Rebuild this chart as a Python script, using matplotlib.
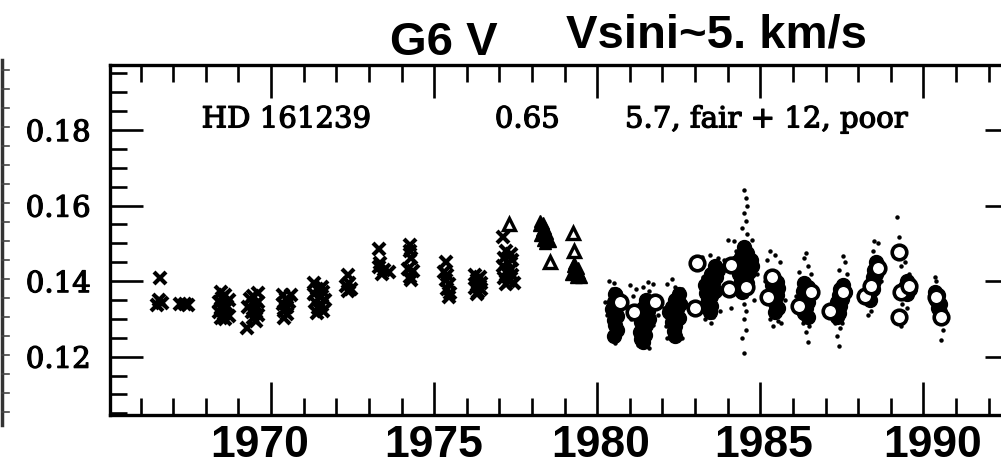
import numpy as np
import matplotlib.pyplot as plt
from matplotlib.lines import Line2D
from matplotlib.ticker import MultipleLocator
import matplotlib.transforms as mtransforms
import matplotlib.patheffects as pe

# crosses (1966-1978)
cross_yr = [1966.6, 1966.55, 1966.65, 1966.5,
            1967.2, 1967.45, 1967.35,
            1968.45, 1968.6, 1968.5, 1968.7, 1968.4, 1968.55, 1968.65, 1968.45, 1968.6, 1968.4, 1968.55, 1968.7, 1968.45, 1968.6,
            1969.6, 1969.45, 1969.35, 1969.6, 1969.5, 1969.3, 1969.55, 1969.4, 1969.6, 1969.45, 1969.25, 1969.55,
            1970.35, 1970.6, 1970.45, 1970.55, 1970.35, 1970.5, 1970.4, 1970.5, 1970.4,
            1971.3, 1971.55, 1971.4, 1971.6, 1971.3, 1971.5, 1971.65, 1971.35, 1971.55, 1971.45, 1971.6, 1971.4,
            1972.35, 1972.4, 1972.3, 1972.45, 1972.35,
            1973.3, 1973.35, 1973.3, 1973.45, 1973.6, 1973.4,
            1974.25, 1974.25, 1974.3, 1974.2, 1974.35, 1974.25, 1974.3,
            1975.35, 1975.3, 1975.4, 1975.35, 1975.45, 1975.4, 1975.5, 1975.45,
            1976.25, 1976.4, 1976.3, 1976.45, 1976.35, 1976.25, 1976.45, 1976.35, 1976.3,
            1977.1, 1977.2, 1977.35, 1977.15, 1977.4, 1977.25, 1977.1, 1977.35, 1977.2, 1977.4, 1977.15, 1977.3, 1977.45, 1977.2]
cross_val = [0.1409, 0.1350, 0.1342, 0.1338,
             0.1340, 0.1337, 0.1339,
             0.1370, 0.1362, 0.1355, 0.1350, 0.1345, 0.1340, 0.1335, 0.1330, 0.1325, 0.1318, 0.1312, 0.1308, 0.1302, 0.1300,
             0.1368, 0.1360, 0.1352, 0.1345, 0.1338, 0.1332, 0.1326, 0.1318, 0.1310, 0.1302, 0.1275, 0.1295,
             0.1364, 0.1362, 0.1352, 0.1345, 0.1340, 0.1332, 0.1322, 0.1312, 0.1302,
             0.1395, 0.1385, 0.1378, 0.1370, 0.1365, 0.1358, 0.1350, 0.1345, 0.1338, 0.1330, 0.1322, 0.1315,
             0.1415, 0.1395, 0.1388, 0.1380, 0.1374,
             0.1484, 0.1449, 0.1438, 0.1430, 0.1424, 0.1420,
             0.1497, 0.1479, 0.1460, 0.1432, 0.1426, 0.1410, 0.1402,
             0.1452, 0.1425, 0.1415, 0.1402, 0.1392, 0.1380, 0.1368, 0.1358,
             0.1415, 0.1410, 0.1402, 0.1395, 0.1388, 0.1382, 0.1378, 0.1372, 0.1367,
             0.1518, 0.1480, 0.1472, 0.1462, 0.1455, 0.1448, 0.1440, 0.1432, 0.1425, 0.1415, 0.1408, 0.1400, 0.1395, 0.1392]

# open triangles
tri_yr = [1977.3, 1978.55, 1979.25, 1979.3]
tri_val = [0.1550, 0.1452, 0.1528, 0.1479]

# filled triangles (dense groups)
trif_yr = [1978.25, 1978.35, 1978.2, 1978.4, 1978.3, 1978.45, 1978.25, 1978.5, 1978.35, 1978.55, 1978.4,
           1979.3, 1979.25, 1979.4, 1979.3, 1979.45, 1979.2, 1979.35, 1979.5]
trif_val = [0.1560, 0.1555, 0.1548, 0.1542, 0.1535, 0.1528, 0.1522, 0.1515, 0.1510, 0.1505, 0.1500,
            0.1448, 0.1440, 0.1435, 0.1428, 0.1422, 0.1418, 0.1412, 0.1410]

# open circles
circ_yr = [1980.7, 1981.13, 1981.77, 1983.0, 1983.05, 1984.05, 1984.1, 1984.55, 1985.25, 1985.35,
           1986.2, 1986.55, 1987.15, 1987.55, 1988.2, 1988.4, 1988.6, 1989.24, 1989.3, 1989.55, 1989.25,
           1990.4, 1990.55]
circ_val = [0.1346, 0.1317, 0.1346, 0.1330, 0.1449, 0.1378, 0.1444, 0.1385, 0.1357, 0.1410,
            0.1333, 0.1370, 0.1320, 0.1370, 0.1360, 0.1386, 0.1436, 0.1476, 0.1370, 0.1386, 0.1306,
            0.1357, 0.1306]

# dense filled groups (1980s)
blob_yr = [1980.55, 1980.6, 1980.5, 1980.6, 1980.45, 1980.55, 1980.6, 1980.5, 1980.55, 1980.6, 1980.5,
           1981.5, 1981.65, 1981.4, 1981.55, 1981.3, 1981.45, 1981.6, 1981.35, 1981.5, 1981.4, 1981.3, 1981.45, 1981.35, 1981.4,
           1982.5, 1982.4, 1982.55, 1982.3, 1982.45, 1982.2, 1982.35, 1982.5, 1982.3, 1982.4, 1982.35, 1982.4,
           1983.6, 1983.7, 1983.5, 1983.65, 1983.4, 1983.55, 1983.3, 1983.45, 1983.6, 1983.35, 1983.5, 1983.4, 1983.5, 1983.45,
           1984.5, 1984.6, 1984.4, 1984.7, 1984.3, 1984.55, 1984.75, 1984.45, 1984.65, 1984.35, 1984.55, 1984.4, 1984.6, 1984.5, 1984.45,
           1985.4, 1985.5, 1985.35, 1985.55, 1985.4, 1985.5, 1985.35, 1985.45, 1985.55, 1985.45,
           1986.35, 1986.45, 1986.3, 1986.5, 1986.35, 1986.45, 1986.3, 1986.4, 1986.35, 1986.45,
           1987.55, 1987.45, 1987.6, 1987.4, 1987.5, 1987.35, 1987.45, 1987.3, 1987.4, 1987.35,
           1988.55, 1988.6, 1988.5, 1988.55, 1988.45, 1988.5, 1988.4, 1988.45, 1988.35, 1988.3, 1988.35,
           1989.5, 1989.55, 1989.45, 1989.6, 1989.4, 1989.5,
           1990.35, 1990.45, 1990.4, 1990.5, 1990.45, 1990.5]
blob_val = [0.1365, 0.1355, 0.1345, 0.1335, 0.1325, 0.1318, 0.1308, 0.1298, 0.1285, 0.1270, 0.1255,
            0.1350, 0.1340, 0.1330, 0.1322, 0.1315, 0.1305, 0.1300, 0.1292, 0.1285, 0.1275, 0.1265, 0.1258, 0.1248, 0.1240,
            0.1365, 0.1350, 0.1340, 0.1332, 0.1325, 0.1318, 0.1310, 0.1302, 0.1292, 0.1280, 0.1268, 0.1255,
            0.1440, 0.1430, 0.1420, 0.1410, 0.1402, 0.1395, 0.1390, 0.1382, 0.1375, 0.1368, 0.1360, 0.1350, 0.1335, 0.1318,
            0.1490, 0.1475, 0.1465, 0.1455, 0.1450, 0.1445, 0.1440, 0.1432, 0.1425, 0.1418, 0.1410, 0.1400, 0.1395, 0.1385, 0.1372,
            0.1410, 0.1398, 0.1390, 0.1382, 0.1372, 0.1362, 0.1352, 0.1342, 0.1330, 0.1318,
            0.1395, 0.1385, 0.1375, 0.1365, 0.1355, 0.1345, 0.1338, 0.1328, 0.1315, 0.1305,
            0.1390, 0.1380, 0.1372, 0.1362, 0.1352, 0.1345, 0.1335, 0.1325, 0.1315, 0.1305,
            0.1450, 0.1440, 0.1430, 0.1420, 0.1410, 0.1400, 0.1390, 0.1380, 0.1370, 0.1360, 0.1350,
            0.1400, 0.1392, 0.1385, 0.1378, 0.1372, 0.1365,
            0.1370, 0.1362, 0.1350, 0.1340, 0.1330, 0.1318]

# scattered single dots
dot_yr = [1980.35, 1980.5, 1980.45, 1980.7, 1980.3, 1980.65, 1980.55, 1980.4, 1980.75, 1980.25,
          1981.0, 1981.2, 1981.4, 1981.55, 1981.7, 1981.6, 1981.1, 1981.7, 1981.25, 1981.6, 1981.5, 1981.85, 1981.05,
          1982.15, 1982.3, 1982.4, 1982.6, 1982.1, 1982.25, 1982.5, 1982.6, 1982.15, 1982.7, 1982.05,
          1983.2, 1983.45, 1983.9, 1983.7, 1983.3, 1983.55, 1983.5, 1983.75, 1983.85, 1983.25,
          1984.5, 1984.55, 1984.6, 1984.5, 1984.55, 1984.45, 1984.6, 1984.0, 1984.2, 1984.75,
          1984.55, 1984.5, 1984.55, 1984.5, 1984.55, 1984.45, 1984.5, 1984.1, 1984.8, 1984.9, 1984.25,
          1985.3, 1985.45, 1985.2, 1985.6, 1985.3, 1985.55, 1985.4, 1985.65, 1985.75, 1985.15,
          1986.4, 1986.35, 1986.45, 1986.2, 1986.55, 1986.3, 1986.5, 1986.4, 1986.45, 1986.6, 1986.1,
          1987.55, 1987.6, 1987.4, 1987.65, 1987.3, 1987.45, 1987.35, 1987.4, 1987.5, 1987.2,
          1988.5, 1988.6, 1988.45, 1988.35, 1988.4, 1988.3, 1988.7,
          1989.2, 1989.25, 1989.3, 1989.45, 1989.55, 1989.35, 1989.3, 1989.5,
          1990.35, 1990.4, 1990.3, 1990.55, 1990.6, 1990.55]
dot_val = [0.1400, 0.1395, 0.1380, 0.1372, 0.1310, 0.1262, 0.1235, 0.1290, 0.1330, 0.1345,
           0.1390, 0.1378, 0.1385, 0.1398, 0.1392, 0.1375, 0.1360, 0.1285, 0.1230, 0.1222, 0.1255, 0.1310, 0.1300,
           0.1392, 0.1405, 0.1385, 0.1378, 0.1280, 0.1262, 0.1260, 0.1250, 0.1250, 0.1345, 0.1330,
           0.1465, 0.1470, 0.1455, 0.1462, 0.1300, 0.1305, 0.1290, 0.1320, 0.1380, 0.1410,
           0.1640, 0.1620, 0.1600, 0.1580, 0.1560, 0.1540, 0.1525, 0.1510, 0.1505, 0.1510,
           0.1360, 0.1340, 0.1320, 0.1300, 0.1270, 0.1250, 0.1210, 0.1330, 0.1350, 0.1420, 0.1480,
           0.1480, 0.1470, 0.1455, 0.1450, 0.1300, 0.1295, 0.1280, 0.1288, 0.1350, 0.1400,
           0.1475, 0.1460, 0.1440, 0.1425, 0.1420, 0.1290, 0.1280, 0.1265, 0.1238, 0.1300, 0.1360,
           0.1466, 0.1450, 0.1430, 0.1420, 0.1290, 0.1275, 0.1255, 0.1227, 0.1290, 0.1340,
           0.1505, 0.1500, 0.1480, 0.1340, 0.1320, 0.1310, 0.1400,
           0.1570, 0.1518, 0.1440, 0.1450, 0.1420, 0.1340, 0.1280, 0.1330,
           0.1410, 0.1400, 0.1380, 0.1295, 0.1270, 0.1245]

year_ticks = [1970, 1975, 1980, 1985, 1990]
year_label_x = [1969.66, 1975.0, 1980.12, 1985.09, 1990.27]

fig = plt.figure(figsize=(10.01, 4.65), dpi=100)
ax = fig.add_axes([0.1099, 0.1075, 0.907, 0.7527])

ax.plot(dot_yr, dot_val, ls='none', marker='o', ms=2.2, color='black', zorder=2)
ax.plot(blob_yr, blob_val, ls='none', marker='o', ms=10, color='black', zorder=3)
ax.plot(circ_yr, circ_val, ls='none', marker='o', ms=10.5, mfc='white', mec='black', mew=2.6, zorder=4)
ax.plot(cross_yr, cross_val, ls='none', marker='x', ms=8.5, mew=3.0, color='black', zorder=3)
ax.plot(trif_yr, trif_val, ls='none', marker='^', ms=9, color='black', zorder=3)
ax.plot(tri_yr, tri_val, ls='none', marker='^', ms=8, mfc='white', mec='black', mew=2.4, zorder=4)

ax.set_xlim(1965.06, 1992.9)
ax.set_ylim(0.10456, 0.19722)

ax.xaxis.set_major_locator(MultipleLocator(5))
ax.xaxis.set_minor_locator(MultipleLocator(1))
ax.yaxis.set_major_locator(MultipleLocator(0.02))
ax.yaxis.set_minor_locator(MultipleLocator(0.005))
ax.tick_params(which='both', direction='in', top=True, right=True, width=1.9, color='black')
ax.tick_params(which='major', length=24)
ax.tick_params(which='minor', length=12)
ax.tick_params(axis='x', labelbottom=False)
ax.tick_params(axis='y', labelsize=21, pad=14)
ax.set_yticks([0.12, 0.14, 0.16, 0.18])
ax.set_yticklabels(['0.12', '0.14', '0.16', '0.18'], fontfamily='DejaVu Serif')
thick = [pe.withStroke(linewidth=0.9, foreground='black')]
for lab in ax.get_yticklabels():
    lab.set_path_effects(thick)
for sp in ax.spines.values():
    sp.set_linewidth(2.4)

trans = mtransforms.blended_transform_factory(ax.transData, ax.transAxes)
for yr, xl in zip(year_ticks, year_label_x):
    ax.text(xl, -0.12, str(yr), transform=trans, ha='center', va='baseline',
            fontsize=32, fontweight='bold', family='Liberation Sans', clip_on=False)

for xt, s in [(1967.87, 'HD 161239'), (1976.86, '0.65'), (1980.85, '5.7, fair + 12, poor')]:
    ax.text(xt, 0.1807, s, fontsize=21, family='DejaVu Serif', va='baseline', path_effects=thick)

fig.text(444 / 1001, 1 - 55 / 465, 'G6 V', ha='center', va='baseline',
         fontsize=34, fontweight='bold', family='Liberation Sans')
fig.text(716 / 1001, 1 - 48 / 465, 'Vsini~5. km/s', ha='center', va='baseline',
         fontsize=34, fontweight='bold', family='Liberation Sans')

# edge of neighbouring panel at the far left
fig.add_artist(Line2D([2 / 1001, 2 / 1001], [1 - 60 / 465, 1 - 425 / 465],
                      transform=fig.transFigure, color='#333333', lw=2.5))
for yp in np.arange(70, 425, 19):
    fig.add_artist(Line2D([2 / 1001, 9 / 1001], [1 - yp / 465, 1 - yp / 465],
                          transform=fig.transFigure, color='#444444', lw=1.2))

fig.savefig('out.png', dpi=100)
